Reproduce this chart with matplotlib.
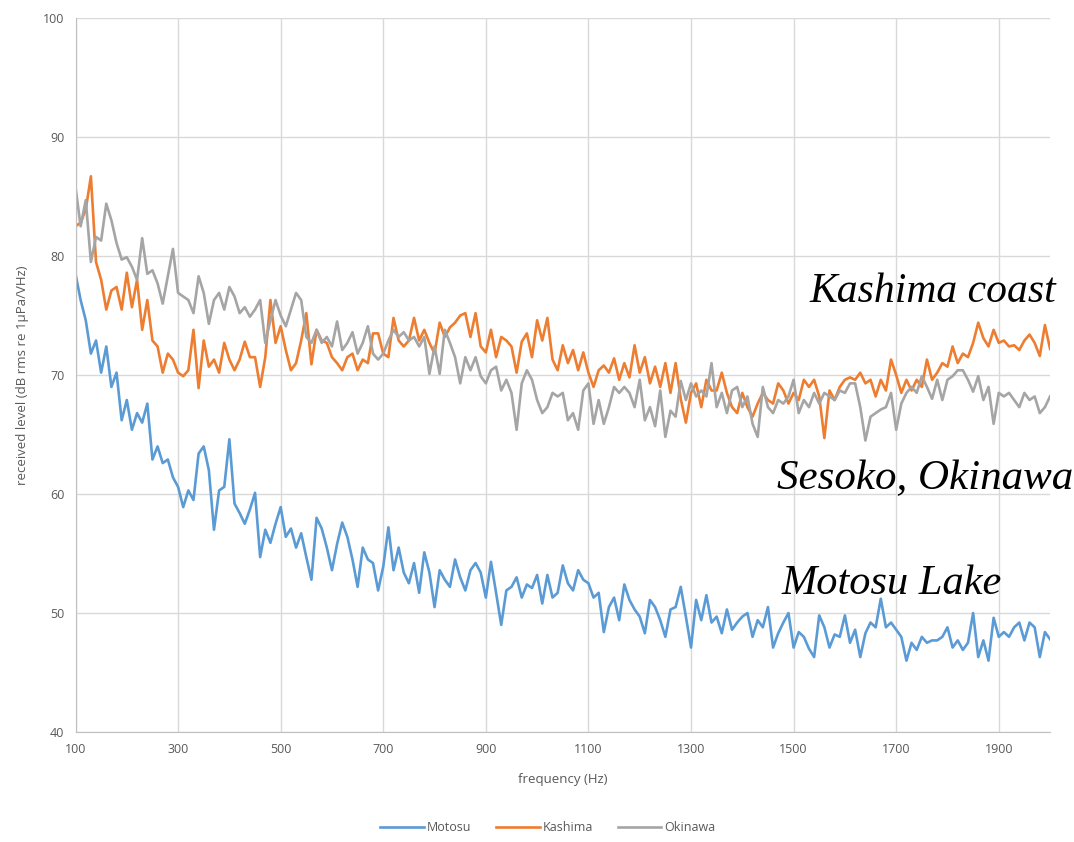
import numpy as np
import matplotlib
matplotlib.use("Agg")
import matplotlib.pyplot as plt

# frequency grid, 10 Hz steps (100 ... 2000)
freq = np.arange(100, 2001, 10)

# received level in dB, one row per 100 Hz
motosu = [
    78.5, 76.3, 74.6, 71.8, 72.9, 70.2, 72.4, 69.0, 70.2, 66.2,
    67.9, 65.4, 66.8, 66.0, 67.6, 62.9, 64.0, 62.6, 62.9, 61.4,
    60.6, 58.9, 60.3, 59.5, 63.4, 64.0, 62.0, 57.0, 60.3, 60.6,
    64.6, 59.2, 58.4, 57.5, 58.7, 60.1, 54.7, 57.0, 55.9, 57.5,
    58.9, 56.4, 57.1, 55.5, 56.7, 54.7, 52.8, 58.0, 57.1, 55.5,
    53.6, 55.8, 57.6, 56.4, 54.5, 52.2, 55.5, 54.5, 54.2, 51.9,
    53.9, 57.2, 53.6, 55.5, 53.4, 52.5, 54.2, 51.7, 55.1, 53.4,
    50.5, 53.6, 52.8, 52.2, 54.5, 53.0, 51.9, 53.6, 54.2, 53.4,
    51.3, 54.3, 51.7, 49.0, 51.9, 52.2, 53.0, 51.3, 52.4, 52.1,
    53.2, 50.8, 53.2, 51.3, 51.7, 54.0, 52.5, 51.9, 53.6, 52.8,
    52.5, 51.3, 51.7, 48.4, 50.5, 51.3, 49.4, 52.4, 51.1, 50.3,
    49.7, 48.3, 51.1, 50.5, 49.4, 48.0, 50.3, 50.5, 52.2, 49.7,
    47.1, 51.1, 49.4, 51.5, 49.2, 49.7, 48.3, 50.3, 48.6, 49.2,
    49.7, 50.0, 48.0, 49.4, 48.8, 50.5, 47.1, 48.3, 49.2, 50.0,
    47.1, 48.4, 48.0, 47.0, 46.3, 49.8, 48.8, 47.1, 48.2, 48.0,
    49.8, 47.5, 48.6, 46.3, 48.3, 49.2, 48.8, 51.2, 48.8, 49.2,
    48.6, 48.0, 46.0, 47.5, 46.9, 48.0, 47.5, 47.7, 47.7, 48.0,
    48.8, 47.1, 47.7, 46.9, 47.5, 50.0, 46.3, 47.7, 46.0, 49.6,
    48.0, 48.4, 48.0, 48.8, 49.2, 47.7, 49.2, 48.8, 46.3, 48.4,
    47.8,
]

kashima = [
    82.5, 82.8, 83.9, 86.7, 79.5, 78.0, 75.5, 77.1, 77.4, 75.5,
    78.6, 75.7, 78.0, 73.8, 76.3, 72.9, 72.4, 70.2, 71.8, 71.3,
    70.2, 69.9, 70.4, 73.8, 68.9, 72.9, 70.7, 71.3, 70.2, 72.7,
    71.3, 70.4, 71.3, 72.8, 71.5, 71.5, 69.0, 71.5, 76.3, 72.7,
    74.1, 72.1, 70.4, 71.0, 72.9, 75.2, 70.9, 73.8, 72.9, 72.7,
    71.5, 71.0, 70.4, 71.5, 71.8, 70.4, 71.3, 71.0, 73.5, 73.5,
    71.8, 71.5, 74.8, 72.9, 72.4, 72.9, 74.8, 72.9, 73.8, 72.7,
    71.8, 74.4, 73.2, 74.0, 74.4, 75.0, 75.2, 73.2, 75.2, 72.4,
    71.9, 73.8, 71.5, 73.2, 72.9, 72.4, 70.2, 72.8, 73.5, 71.5,
    74.6, 72.9, 74.8, 71.3, 70.4, 72.5, 71.0, 72.1, 70.4, 71.9,
    70.2, 69.0, 70.4, 70.8, 70.2, 71.4, 69.6, 71.0, 69.8, 72.5,
    70.2, 71.5, 69.3, 70.7, 69.0, 71.0, 68.5, 71.0, 68.0, 66.0,
    68.5, 69.3, 67.3, 69.6, 68.7, 68.7, 70.2, 68.5, 67.3, 66.8,
    68.5, 67.3, 66.5, 67.6, 68.5, 67.9, 67.6, 69.3, 68.7, 67.6,
    68.5, 67.9, 69.6, 69.0, 69.6, 68.2, 64.7, 68.7, 67.9, 69.0,
    69.6, 69.8, 69.6, 70.2, 69.3, 69.6, 68.2, 69.6, 68.7, 71.3,
    70.0, 68.5, 69.6, 68.7, 69.6, 69.0, 71.3, 69.6, 70.2, 71.0,
    70.7, 72.4, 71.0, 71.8, 71.5, 72.7, 74.4, 73.1, 72.4, 73.8,
    72.7, 72.9, 72.4, 72.5, 72.1, 72.9, 73.4, 72.7, 71.6, 74.2,
    72.2,
]

okinawa = [
    85.8, 82.5, 84.7, 79.5, 81.6, 81.3, 84.4, 83.0, 81.1, 79.7,
    79.9, 79.1, 78.0, 81.5, 78.5, 78.8, 77.7, 76.0, 78.3, 80.6,
    76.9, 76.6, 76.3, 75.2, 78.3, 76.9, 74.3, 76.3, 76.9, 75.5,
    77.4, 76.6, 75.2, 75.7, 74.9, 75.5, 76.3, 72.7, 74.6, 76.3,
    75.0, 74.1, 75.5, 76.9, 76.3, 73.2, 72.7, 73.8, 72.7, 73.2,
    72.4, 74.5, 72.1, 72.7, 73.6, 71.8, 72.7, 74.1, 71.8, 71.3,
    71.8, 72.9, 73.8, 73.2, 73.6, 72.9, 73.2, 72.4, 73.2, 70.1,
    72.4, 70.1, 73.8, 72.7, 71.5, 69.3, 71.5, 70.4, 71.5, 69.9,
    69.3, 70.4, 70.7, 68.7, 69.6, 68.5, 65.4, 69.3, 70.4, 69.6,
    67.9, 66.8, 67.3, 68.5, 68.2, 68.5, 66.2, 66.8, 65.4, 68.7,
    69.3, 65.9, 67.9, 65.9, 67.3, 69.0, 68.5, 69.0, 68.5, 67.3,
    69.6, 66.2, 67.3, 65.7, 68.7, 64.8, 67.0, 66.5, 69.5, 67.9,
    69.3, 68.2, 68.7, 68.2, 71.0, 67.3, 68.5, 66.8, 68.7, 69.0,
    67.3, 68.2, 65.9, 64.8, 69.0, 67.3, 66.8, 67.9, 67.6, 68.2,
    69.6, 66.8, 67.9, 67.3, 68.5, 67.6, 68.5, 68.2, 67.9, 68.7,
    68.5, 69.3, 69.3, 67.3, 64.5, 66.5, 66.8, 67.1, 67.3, 68.5,
    65.4, 67.6, 68.5, 69.0, 68.5, 69.9, 69.0, 68.0, 69.6, 67.9,
    69.6, 69.9, 70.4, 70.4, 69.6, 68.6, 69.9, 67.9, 69.0, 65.9,
    68.5, 68.2, 68.5, 67.9, 67.3, 68.5, 67.9, 68.2, 66.8, 67.3,
    68.2,
]

x_ticks = [100, 300, 500, 700, 900, 1100, 1300, 1500, 1700, 1900]
y_ticks = [40, 50, 60, 70, 80, 90, 100]

grey_txt = "#595959"
plt.rcParams["font.family"] = ["Open Sans", "DejaVu Sans"]

fig = plt.figure(figsize=(10.74, 8.42), dpi=100)
ax = fig.add_axes([0.0703, 0.1306, 0.9074, 0.848])

ax.plot(freq, motosu, color="#5B9BD5", lw=1.9, label="Motosu")
ax.plot(freq, kashima, color="#ED7D31", lw=1.9, label="Kashima")
ax.plot(freq, okinawa, color="#A5A5A5", lw=1.9, label="Okinawa")

ax.set_xlim(100, 2000)
ax.set_ylim(40, 100)
ax.set_xticks(x_ticks)
ax.set_yticks(y_ticks)
ax.grid(True, color="#D9D9D9", lw=1.0)
ax.set_axisbelow(True)
for s in ["top", "right"]:
    ax.spines[s].set_visible(False)
for s in ["left", "bottom"]:
    ax.spines[s].set_color("#BFBFBF")
ax.tick_params(length=0, labelsize=9, labelcolor=grey_txt, pad=8)

ax.set_xlabel("frequency (Hz)", fontsize=9.5, color=grey_txt, labelpad=12)
ax.set_ylabel("received level (dB rms re 1\u03bcPa/VHz)", fontsize=9.5,
              color=grey_txt, labelpad=10)

# site labels
serif = dict(family=["Liberation Serif", "DejaVu Serif"], style="italic",
             color="black", clip_on=False)
ax.text(2012, 77.0, "Kashima coast", ha="right", va="center", fontsize=30, **serif)
ax.text(1468, 61.3, "Sesoko, Okinawa", ha="left", va="center", fontsize=31, **serif)
ax.text(1476, 52.5, "Motosu Lake", ha="left", va="center", fontsize=30.5, **serif)

fig.legend(loc="center", bbox_to_anchor=(0.51, 0.017), ncol=3, frameon=False,
           fontsize=9, labelcolor=grey_txt, handlelength=3.5,
           columnspacing=2.0, handletextpad=0.2)

fig.savefig("out.png", dpi=100)
